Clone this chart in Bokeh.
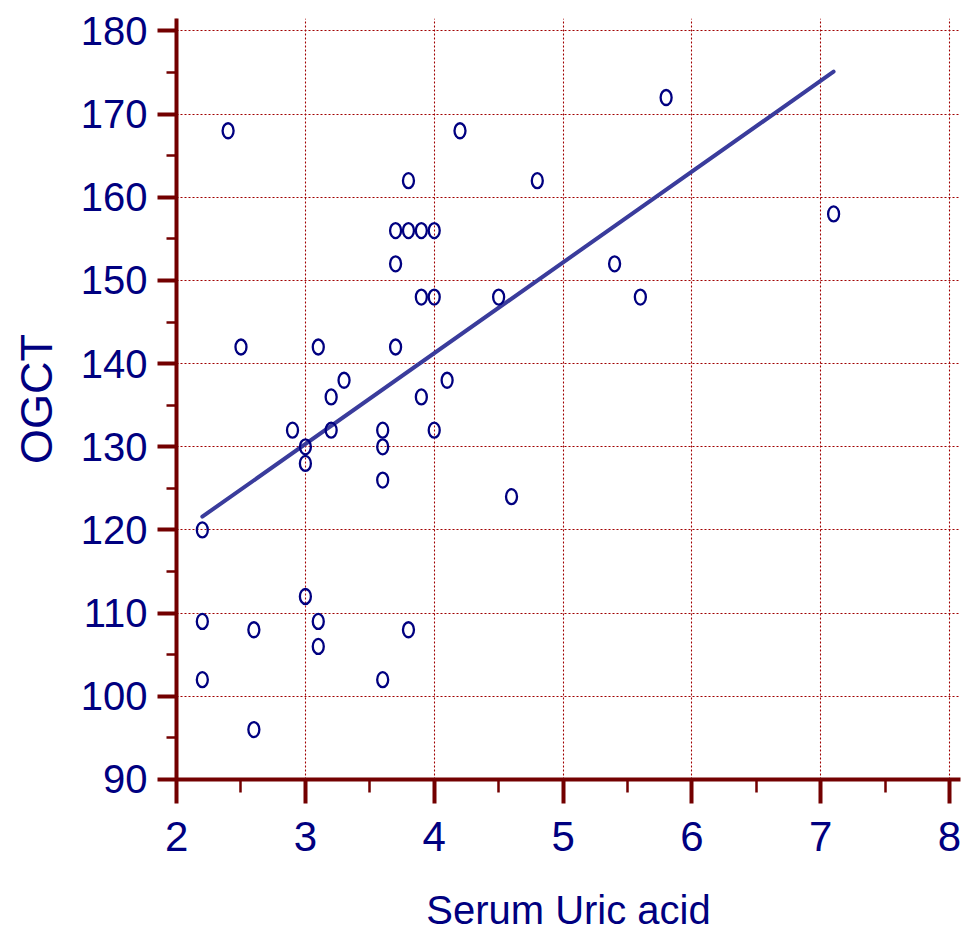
from bokeh.plotting import figure
from bokeh.models import Range1d, SingleIntervalTicker
from bokeh.embed import file_html
from bokeh.resources import INLINE

# Serum uric acid vs OGCT observations
uric_acid = [2.4, 4.2, 5.8, 3.8, 4.8, 7.1, 3.7, 3.8, 3.9, 4.0,
             3.7, 5.4, 3.9, 4.0, 4.5, 5.6, 2.5, 3.1, 3.7, 3.3,
             4.1, 3.2, 3.9, 2.9, 3.2, 3.6, 4.0, 3.0, 3.6, 3.0,
             3.6, 4.6, 2.2, 3.0, 2.2, 3.1, 2.6, 3.8, 3.1, 2.2,
             3.6, 2.6]
ogct = [168, 168, 172, 162, 162, 158, 156, 156, 156, 156,
        152, 152, 148, 148, 148, 148, 142, 142, 142, 138,
        138, 136, 136, 132, 132, 132, 132, 130, 130, 128,
        126, 124, 120, 112, 109, 109, 108, 108, 106, 102,
        102, 96]

# Fitted regression line end points
fit_x = [2.2, 7.1]
fit_y = [121.6, 175.1]

x_ticks_interval = 1
y_ticks_interval = 10

AXIS_RED = "#730000"
GRID_RED = "#a00000"
NAVY = "#000080"
LINE_BLUE = "#3a3c9c"
SANS = "'Liberation Sans', Arial, sans-serif"

p = figure(width=964, height=937, output_backend="svg", toolbar_location=None,
           x_range=Range1d(1.9995, 8.085), y_range=Range1d(89.995, 181.5),
           min_border_left=176, min_border_right=4, min_border_top=18,
           min_border_bottom=158)
p.outline_line_color = None
p.background_fill_color = "white"
p.border_fill_color = "white"

# Axes
for ax in (p.xaxis, p.yaxis):
    ax.axis_line_color = AXIS_RED
    ax.axis_line_width = 4
    ax.major_tick_line_color = AXIS_RED
    ax.major_tick_line_width = 4
    ax.minor_tick_line_color = AXIS_RED
    ax.minor_tick_line_width = 2.5
    ax.major_tick_in = 0
    ax.minor_tick_in = 0
    ax.major_label_text_color = NAVY
    ax.major_label_text_font = SANS
    ax.axis_label_text_color = NAVY
    ax.axis_label_text_font = SANS
    ax.axis_label_text_font_style = "normal"

p.xaxis.major_label_text_font_size = "42px"
p.yaxis.major_label_text_font_size = "40px"

p.xaxis.ticker = SingleIntervalTicker(interval=x_ticks_interval, num_minor_ticks=2)
p.yaxis.ticker = SingleIntervalTicker(interval=y_ticks_interval, num_minor_ticks=2)
p.xgrid.ticker = p.xaxis.ticker
p.ygrid.ticker = p.yaxis.ticker

p.xaxis.major_tick_out = 24
p.xaxis.minor_tick_out = 13
p.yaxis.major_tick_out = 19
p.yaxis.minor_tick_out = 10
p.xaxis.major_label_standoff = 18
p.yaxis.major_label_standoff = 10

p.xaxis.axis_label = "Serum Uric acid"
p.xaxis.axis_label_text_font_size = "40px"
p.xaxis.axis_label_standoff = 34

p.yaxis.axis_label = "OGCT"
p.yaxis.axis_label_text_font_size = "45px"
p.yaxis.axis_label_standoff = 16

# Dotted grid
for g in (p.xgrid, p.ygrid):
    g.grid_line_color = GRID_RED
    g.grid_line_width = 1.1
    g.grid_line_dash = "2 2"

# Regression line
p.line(fit_x, fit_y, line_color=LINE_BLUE, line_width=4, line_cap="round")

# Open elliptical markers
p.ellipse(x=uric_acid, y=ogct, width=11, height=15,
          width_units="screen", height_units="screen",
          fill_color=None, line_color=NAVY, line_width=2.3)

open("out.html", "w").write(file_html(p, INLINE))
